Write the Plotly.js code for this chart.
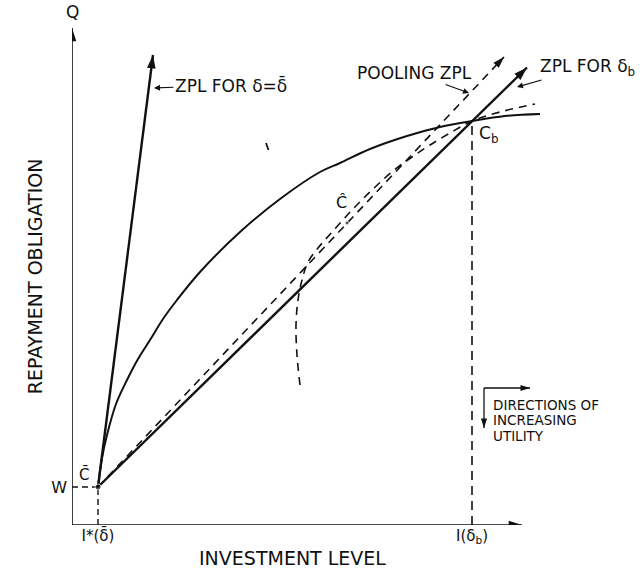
<!DOCTYPE html>
<html>
<head>
<meta charset="utf-8">
<script src="https://cdn.plot.ly/plotly-3.0.1.min.js"></script>
<style>html,body{margin:0;padding:0;background:#fff;}#chart{width:640px;height:586px;}</style>
</head>
<body>
<div id="chart"></div>
<script>
// ---- key points (investment level I, repayment obligation Q) ----
const pointCbar = [5.2, 7.6];          // C-bar : (I*(δ̄), W)
const pointCb   = [80, 80.8];          // C_b
const pointChat = [55, 60.4];          // Ĉ

// ---- axes ----
const axisQX = [0, 0];   const axisQY = [0, 99.4];
const axisIX = [0, 90];  const axisIY = [0, 0];

// ---- zero-profit lines ----
const zplBarX  = [5.2, 16.2];          // ZPL for δ = δ̄
const zplBarY  = [7.6, 94.0];
const zplBX    = [5.2, 80, 91.0];      // ZPL for δ_b
const zplBY    = [7.6, 80.8, 91.5];
const poolX    = [5.2, 86.4];          // pooling ZPL
const poolY    = [7.6, 93.6];

// ---- indifference curves ----
const indifX = [5.2, 6.0, 7.0, 8.8, 11.0, 13.2, 15.6, 18.2, 21.0, 25.6, 33.6, 41.6, 49.6, 53.6, 59.6, 67.0, 73.6, 80.0, 86.6, 93.6];
const indifY = [7.6, 13.4, 18.0, 24.2, 29.0, 33.2, 37.0, 41.2, 45.0, 50.6, 58.6, 65.2, 70.6, 72.4, 75.2, 77.8, 79.6, 80.8, 81.8, 82.2];
const dashIndifX = [45.6, 45.0, 44.8, 45.2, 46.0, 47.2, 49.2, 52.2, 56.2, 60.2, 64.2, 68.0, 71.6, 75.6, 80.0, 85.6, 92.6];
const dashIndifY = [28.0, 34.0, 40.0, 45.0, 49.0, 52.6, 55.4, 58.8, 63.2, 67.2, 70.8, 73.6, 76.0, 78.4, 80.8, 82.6, 84.2];

// ---- guide lines ----
const guideWX  = [0, 5.2];  const guideWY  = [7.6, 7.6];
const guideI1X = [5.2, 5.2]; const guideI1Y = [0, 7.6];
const guideIbX = [80, 80];  const guideIbY = [0, 80.8];
const strayX = [38.8, 39.3]; const strayY = [76.4, 75.0];

// ---- directions of increasing utility ----
const dirRightX = [82.4, 91.6]; const dirRightY = [27.4, 27.4];
const dirDownX  = [82.4, 82.4]; const dirDownY  = [27.4, 19.4];

// ---- tick labels ----
const xTickVals = [5.2, 80];
const xTickText = ['I*(δ\u0304)', 'I(δ<sub>b</sub>)'];
const yTickVals = [7.6];
const yTickText = ['W'];

const FONT = 'DejaVu Sans, Arial, sans-serif';
const K = '#111';

function line(x, y, lineOpts) {
  return {x: x, y: y, type: 'scatter', mode: 'lines', hoverinfo: 'skip',
    line: Object.assign({color: K, width: 2}, lineOpts || {})};
}
// arrowhead marker at the last point of a line (x and y use the same px per unit)
function head(x, y, size) {
  const n = x.length;
  const dx = x[n - 1] - x[n - 2], dy = y[n - 1] - y[n - 2];
  const ang = Math.atan2(dx, dy) * 180 / Math.PI;
  return {x: [x[n - 1]], y: [y[n - 1]], type: 'scatter', mode: 'markers', hoverinfo: 'skip',
    marker: {symbol: 'arrow', angle: ang, size: size, color: K, line: {width: 0}}};
}

const traces = [
  line(axisQX, axisQY, {width: 1.6}), head(axisQX, axisQY, 14),
  line(axisIX, axisIY, {width: 1.6}), head(axisIX, axisIY, 14),
  line(guideWX, guideWY, {width: 1.4, dash: '6px,4px'}),
  line(guideI1X, guideI1Y, {width: 1.4, dash: '6px,4px'}),
  line(guideIbX, guideIbY, {width: 1.6, dash: '9px,6px'}),
  line(zplBarX, zplBarY, {width: 2.4}), head(zplBarX, zplBarY, 14),
  line(zplBX, zplBY, {width: 2.4}), head(zplBX, zplBY, 14),
  line(poolX, poolY, {width: 1.6, dash: '8px,6px'}), head(poolX, poolY, 12),
  line(indifX, indifY, {width: 2, shape: 'spline', smoothing: 1}),
  line(dashIndifX, dashIndifY, {width: 1.6, dash: '8px,6px', shape: 'spline', smoothing: 1}),
  line(strayX, strayY, {width: 1.8}),
  line(dirRightX, dirRightY, {width: 1.3}), head(dirRightX, dirRightY, 10),
  line(dirDownX, dirDownY, {width: 1.3}), head(dirDownX, dirDownY, 10),
  {x: [pointCbar[0], pointChat[0]], y: [pointCbar[1], pointChat[1]], type: 'scatter', mode: 'markers',
   hoverinfo: 'skip', marker: {color: K, size: [6, 4]}}
];

function label(x, y, text, size, extra) {
  return Object.assign({x: x, y: y, xref: 'x', yref: 'y', text: text, showarrow: false,
    font: {family: FONT, size: size, color: K}}, extra || {});
}

const annotations = [
  // axis end labels
  label(0, 102.6, 'Q', 17),
  label(91.8, -0.4, 'I', 17),
  // point labels
  label(2.4, 10.2, 'C\u0304', 15),
  label(53.8, 64.6, 'C\u0302', 16),
  label(83.2, 78.2, 'C<sub>b</sub>', 17),
  // line labels with pointers
  {x: 16.4, y: 87.4, xref: 'x', yref: 'y', ax: 77, ay: -3, text: 'ZPL FOR δ=δ\u0304', showarrow: true,
   arrowhead: 2, arrowsize: 1, arrowwidth: 1.2, arrowcolor: K, font: {family: FONT, size: 17, color: K}},
  {x: 79.4, y: 86.4, xref: 'x', yref: 'y', ax: -55, ay: -20, text: 'POOLING ZPL', showarrow: true,
   arrowhead: 2, arrowsize: 1, arrowwidth: 1.2, arrowcolor: K, font: {family: FONT, size: 17, color: K}},
  {x: 89.0, y: 87.6, xref: 'x', yref: 'y', ax: 70, ay: -20, text: 'ZPL FOR δ<sub>b</sub>', showarrow: true,
   arrowhead: 2, arrowsize: 1, arrowwidth: 1.2, arrowcolor: K, font: {family: FONT, size: 17, color: K}},
  // directions of increasing utility
  label(83.8, 24.0, 'DIRECTIONS OF', 13.5, {xanchor: 'left'}),
  label(83.8, 21.0, 'INCREASING', 13.5, {xanchor: 'left'}),
  label(83.8, 17.8, 'UTILITY', 13.5, {xanchor: 'left'}),
  // axis titles
  {x: 0.389, y: -0.088, xref: 'paper', yref: 'paper', text: 'INVESTMENT LEVEL', showarrow: false,
   font: {family: FONT, size: 19, color: K}},
  {x: -0.088, y: 0.474, xref: 'paper', yref: 'paper', text: 'REPAYMENT OBLIGATION', showarrow: false,
   textangle: -90, font: {family: FONT, size: 19, color: K}}
];

const layout = {
  width: 640, height: 586,
  margin: {l: 72, r: 0, t: 0, b: 61, pad: 0},
  paper_bgcolor: '#fff', plot_bgcolor: '#fff',
  showlegend: false,
  xaxis: {range: [0, 113.6], showgrid: false, zeroline: false, showline: false, ticks: '',
    tickvals: xTickVals, ticktext: xTickText, tickfont: {family: FONT, size: 15, color: K}, fixedrange: true},
  yaxis: {range: [0, 105], showgrid: false, zeroline: false, showline: false, ticks: '',
    tickvals: yTickVals, ticktext: yTickText, tickfont: {family: FONT, size: 16, color: K},
    ticklabelstandoff: 4, fixedrange: true},
  annotations: annotations
};

Plotly.newPlot('chart', traces, layout, {displayModeBar: false, staticPlot: true});
</script>
</body>
</html>
